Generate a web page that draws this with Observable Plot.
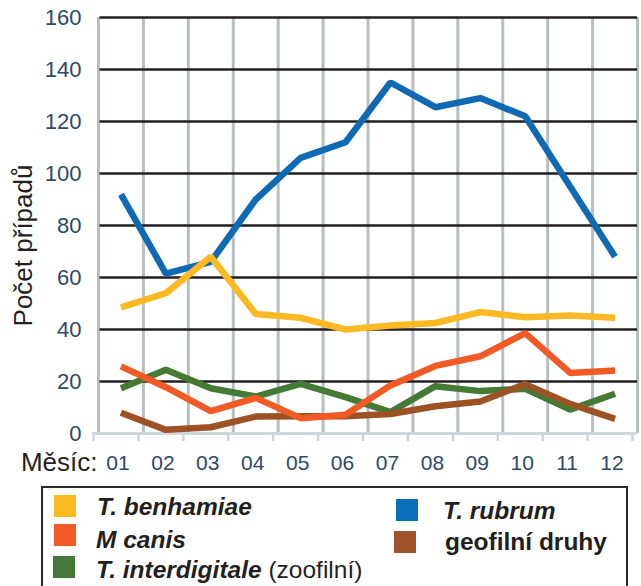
<!DOCTYPE html>
<html>
<head>
<meta charset="utf-8">
<script src="https://cdn.jsdelivr.net/npm/d3@7"></script>
<script src="https://cdn.jsdelivr.net/npm/@observablehq/plot@0.6"></script>
<style>
  html, body { margin: 0; padding: 0; background: #fff; }
  body { width: 641px; height: 586px; overflow: hidden; font-family: "Liberation Sans", Arial, Helvetica, sans-serif; }
  #page { position: relative; width: 641px; height: 586px; }
  #chart { position: absolute; left: 0; top: 0; }
  .box { position: absolute; left: 41px; top: 486px; width: 583px; height: 120px; border: 2.5px solid #2a2a2a; }
  .sw { position: absolute; width: 22px; height: 22px; }
  .lt { position: absolute; font-size: 24.5px; line-height: 24px; color: #231f20; white-space: nowrap; font-weight: bold; }
  .lt i { font-style: italic; }
  .lt span.n { font-weight: normal; }
</style>
</head>
<body>
<div id="page">
  <div id="chart"></div>
  <div id="legend"></div>
</div>
<script>
// ---- data ----
const months = ["01","02","03","04","05","06","07","08","09","10","11","12"];
const seriesNames = ["T. rubrum", "T. interdigitale", "geofilní druhy", "M canis", "T. benhamiae"];
const tRubrum        = [92, 61.5, 66, 90, 106, 112, 135, 125.5, 129, 122, 95, 68];
const tInterdigitale = [17.4, 24.5, 17.4, 14.2, 19.1, 14, 8.2, 18.2, 16.3, 17.2, 9.2, 15.3];
const geofilni       = [8, 1.4, 2.4, 6.5, 6.6, 6.6, 7.5, 10.5, 12.3, 19, 11.4, 5.6];
const mCanis         = [25.8, 17.8, 8.6, 13.7, 5.9, 7.2, 18.5, 26, 29.7, 38.6, 23.3, 24.2];
const tBenhamiae     = [48.5, 54, 68, 46, 44.5, 40, 41.5, 42.5, 46.7, 44.7, 45.4, 44.5];
const seriesColors   = ["#1069b3", "#457a35", "#9c5224", "#f15a24", "#fdb924"];
const yTicks = [0, 20, 40, 60, 80, 100, 120, 140, 160];
const yLabel = "Počet případů";
const xLabel = "Měsíc:";

const seriesValues = [tRubrum, tInterdigitale, geofilni, mCanis, tBenhamiae];
const rows = [];
seriesNames.forEach((s, si) => seriesValues[si].forEach((v, i) => rows.push({series: s, m: i + 1, v})));
const boundaries = d3.range(0, 13).map(k => k + 0.5);
const monthIdx = months.map((m, i) => ({m: i + 1, label: m}));

const font = "Liberation Sans, Arial, Helvetica, sans-serif";

const chart = Plot.plot({
  width: 641,
  height: 480,
  marginLeft: 98,
  marginRight: 4,
  marginTop: 17,
  marginBottom: 47,
  style: {fontFamily: font, background: "white", overflow: "visible"},
  x: {type: "linear", domain: [0.5, 12.5], axis: null},
  y: {domain: [0, 160], axis: null},
  color: {domain: seriesNames, range: seriesColors},
  marks: [
    // vertical grey grid
    Plot.ruleX(boundaries, {x: d => d, y1: 0, y2: 160, stroke: "#b6bfc1", strokeWidth: 3}),
    // small ticks below baseline
    Plot.ruleX(boundaries, {x: d => d, y1: 0, y2: 0, insetBottom: -8, dx: -5, stroke: "#c9d6df", strokeWidth: 2.5}),
    // horizontal black grid
    Plot.ruleY(yTicks.filter(d => d > 0), {y: d => d, x1: 0.5, x2: 12.5, insetLeft: 1.5, stroke: "#231f20", strokeWidth: 2.6}),
    // baseline
    Plot.ruleY([0], {y: d => d, x1: 0.5, x2: 12.5, insetLeft: -6, stroke: "#cbd8e0", strokeWidth: 3}),
    // series lines
    Plot.line(rows, {x: "m", y: "v", z: "series", stroke: "series", strokeWidth: 6.5, strokeLinejoin: "miter", strokeLinecap: "butt"}),
    // y tick labels
    Plot.text(yTicks, {x: 0.5, y: d => d, text: d => String(d), textAnchor: "end", dx: -17, fontSize: 22, fill: "#2c4a67"}),
    // month labels
    Plot.text(monthIdx, {x: "m", y: 0, text: "label", dx: -3, dy: 30, fontSize: 21, fill: "#2c4a67"}),
    // x label
    Plot.text([xLabel], {x: 0.5, y: 0, text: d => d, textAnchor: "end", dx: -1, dy: 29, fontSize: 26, fill: "#231f20"}),
    // y label
    Plot.text([yLabel], {frameAnchor: "left", text: d => d, textAnchor: "middle", rotate: -90, dx: -75, dy: 20, fontSize: 26, fill: "#231f20"})
  ]
});
document.getElementById("chart").appendChild(chart);

// ---- legend ----
const legendItems = [
  {name: "T. benhamiae", color: "#fbba1f", sw: [54, 495], tx: [97, 494.5], italic: true},
  {name: "M canis", color: "#f15a24", sw: [54, 524], tx: [96, 527.5], italic: true},
  {name: "T. interdigitale", extra: " (zoofilní)", color: "#45783a", sw: [53, 556], tx: [96, 557.5], italic: true},
  {name: "T. rubrum", color: "#0a6eb9", sw: [396, 499], tx: [443, 498.5], italic: true},
  {name: "geofilní druhy", color: "#a0522a", sw: [394, 531], tx: [445, 529.5], italic: false}
];
const lg = document.getElementById("legend");
const box = document.createElement("div");
box.className = "box";
lg.appendChild(box);
legendItems.forEach(it => {
  const s = document.createElement("div");
  s.className = "sw";
  s.style.left = it.sw[0] + "px";
  s.style.top = it.sw[1] + "px";
  s.style.background = it.color;
  lg.appendChild(s);
  const t = document.createElement("div");
  t.className = "lt";
  t.style.left = it.tx[0] + "px";
  t.style.top = it.tx[1] + "px";
  if (it.italic) {
    const i = document.createElement("i");
    i.textContent = it.name;
    t.appendChild(i);
  } else {
    t.appendChild(document.createTextNode(it.name));
  }
  if (it.extra) {
    const n = document.createElement("span");
    n.className = "n";
    n.textContent = it.extra;
    t.appendChild(n);
  }
  lg.appendChild(t);
});
</script>
</body>
</html>
